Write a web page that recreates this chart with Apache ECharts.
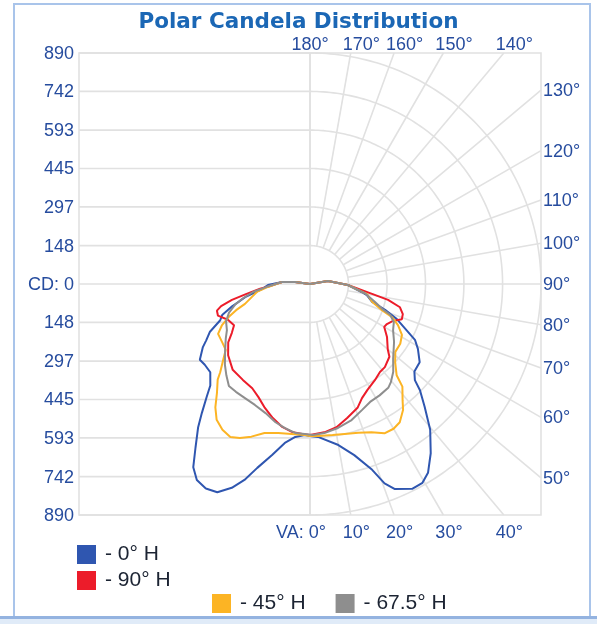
<!DOCTYPE html>
<html>
<head>
<meta charset="utf-8">
<script src="https://cdn.jsdelivr.net/npm/echarts@6/dist/echarts.min.js"></script>
<style>
    html, body { margin: 0; padding: 0; background: #fff; }
    #main { width: 597px; height: 624px; }
</style>
</head>
<body>
<div id="main"></div>
<script>
// candela ticks (left scale) and grid angles
var cdTicks = [0, 148, 297, 445, 593, 742, 890];
var maxCd = 890;
var gridAngles = [0, 10, 20, 30, 40, 50, 60, 70, 80, 90, 100, 110, 120, 130, 140, 150, 160, 170, 180];

// [vertical angle, candela]; negative angle = left half of the plot
var h0 = [[-180, 0], [-97.5, 58], [-94, 108], [-88.5, 162], [-84, 186], [-78.5, 255], [-74, 312], [-70.5, 359],
    [-68, 373], [-64.5, 427], [-61.5, 455], [-59.5, 479], [-55.5, 515], [-52.5, 511], [-48.5, 513], [-44.5, 548],
    [-42.5, 589], [-40, 648], [-38, 700], [-35, 769], [-32.5, 837], [-30, 872], [-27, 884], [-24, 878], [-21, 841],
    [-18.5, 796], [-16, 737], [-12.5, 675], [-9, 620], [-5.5, 592], [-2, 582], [0, 586], [3, 590], [10, 630],
    [14.5, 681], [18.5, 755], [20.5, 820], [22.5, 855], [26.5, 882], [29.5, 880], [32, 858], [35.5, 801],
    [39.5, 728], [43, 648], [46, 589], [47.5, 548], [50, 525], [54.5, 519], [59, 485], [62, 458], [64, 420],
    [68, 361], [71, 306], [74, 249], [79, 223], [81, 203], [88.5, 146], [92, 108], [99.5, 70], [180, 0]];

var h90 = [[-180, 0], [-97.5, 58], [-94, 108], [-87, 154], [-84.5, 193], [-81, 250], [-78.5, 307], [-76, 353],
    [-74, 373], [-71, 375], [-66.5, 345], [-61.5, 333], [-58, 355], [-54.5, 387], [-49, 418], [-42, 445],
    [-35, 451], [-29, 459], [-24.5, 479], [-20, 508], [-15.5, 536], [-11, 561], [-7, 574], [-3, 579], [0, 582],
    [2, 578], [6, 573], [10.5, 561], [15.5, 536], [21, 511], [24.5, 483], [28.5, 464], [34, 447], [38.5, 433],
    [42, 431], [47.5, 415], [50, 391], [55.5, 360], [60, 330], [62.5, 334], [66, 350], [69, 379], [72, 376],
    [75.5, 358], [78.5, 307], [81, 242], [88.5, 146], [92, 108], [99.5, 70], [180, 0]];

var h45 = [[-180, 0], [-97.5, 58], [-94, 108], [-86, 162], [-81.5, 207], [-77.5, 229], [-73, 262], [-70.5, 302],
    [-68, 337], [-65, 374], [-61.5, 403], [-56.5, 406], [-52, 412], [-48.5, 448], [-45.5, 485], [-44, 512],
    [-40.5, 552], [-37.5, 599], [-34.5, 635], [-31, 655], [-27.5, 665], [-24.5, 652], [-21, 630], [-17, 600],
    [-12, 587], [-7, 582], [-2, 582], [0, 586], [3, 586], [8.5, 588], [13, 593], [18, 603], [22.5, 618],
    [26.5, 643], [30, 644], [33, 635], [36.5, 603], [38.5, 573], [42, 532], [43.5, 485], [47.5, 445], [51.5, 420],
    [56.5, 417], [61, 405], [65, 374], [68, 341], [70, 295], [74, 249], [80, 223], [88.5, 146], [92, 108],
    [99.5, 70], [180, 0]];

var h675 = [[-180, 0], [-97.5, 58], [-94, 108], [-86, 170], [-82, 222], [-78, 264], [-74.5, 300], [-70.5, 331],
    [-66, 354], [-61, 366], [-57, 387], [-52, 415], [-46.5, 452], [-42.5, 477], [-38.5, 502], [-34.5, 504],
    [-29.5, 506], [-24.5, 512], [-19, 526], [-14, 549], [-10, 563], [-5.5, 577], [-2, 578], [1, 582], [5.5, 577],
    [11, 565], [17, 548], [22.5, 525], [27, 510], [32, 506], [37, 501], [39.5, 490], [43.5, 466], [48, 431],
    [55.5, 393], [61, 366], [65.5, 355], [69, 331], [71, 294], [74.5, 260], [80.5, 215], [88.5, 146], [92, 108],
    [99.5, 70], [180, 0]];

var seriesNames = ['0° H', '90° H', '45° H', '67.5° H'];
var seriesColors = ['#2f56b0', '#ec1c2a', '#fcb424', '#8e8e8e'];

window.onload = function () {
    var gridColor = '#e1e1e1';
    var labelColor = '#264c9e';
    var labelFont = '18px "Liberation Sans", Arial, sans-serif';

    function txt(x, y, s, align) {
        return {
            type: 'text', x: x, y: y,
            style: {
                text: s, fill: labelColor, font: labelFont,
                align: align, textAlign: align,
                verticalAlign: 'middle', textVerticalAlign: 'middle'
            }
        };
    }

    function renderGrid(params, api) {
        var c = api.coord([0, 0]);
        var R = c[1] - api.coord([maxCd, 180])[1];
        var L = c[0] - R, Rt = c[0] + R, T = c[1] - R, B = c[1] + R;
        var st = {stroke: gridColor, lineWidth: 1.6, fill: null};
        var kids = [];

        kids.push({type: 'rect', shape: {x: L, y: T, width: 2 * R, height: 2 * R}, style: st});
        kids.push({type: 'line', shape: {x1: L, y1: c[1], x2: c[0], y2: c[1]}, style: st});
        kids.push({type: 'line', shape: {x1: c[0], y1: T, x2: c[0], y2: B}, style: st});

        // rings: straight on the left, arc on the right
        cdTicks.slice(1).forEach(function (v) {
            var pts = [];
            for (var a = 180; a >= 0; a--) pts.push(api.coord([v, a]));
            pts.unshift([L, pts[0][1]]);
            pts.push([L, pts[pts.length - 1][1]]);
            kids.push({type: 'polyline', shape: {points: pts}, style: st});
        });

        // spokes from first ring out to the box
        gridAngles.forEach(function (a) {
            var p1 = api.coord([cdTicks[1], a]);
            var e = api.coord([maxCd, a]);
            var ux = (e[0] - c[0]) / R, uy = (e[1] - c[1]) / R;
            var k = R / Math.max(Math.abs(ux), Math.abs(uy));
            var p2 = [c[0] + ux * k, c[1] + uy * k];
            kids.push({type: 'line', shape: {x1: p1[0], y1: p1[1], x2: p2[0], y2: p2[1]}, style: st});

            if (a >= 135) {
                if (a === 180) kids.push(txt(c[0], T - 8, a + '°', 'center'));
                else kids.push(txt(p2[0] - 8, T - 8, a + '°', 'left'));
            } else if (a <= 45) {
                if (a === 0) kids.push(txt(c[0] + 16, B + 18, 'VA: 0°', 'right'));
                else kids.push(txt(p2[0] - 8, B + 18, a + '°', 'left'));
            } else {
                kids.push(txt(Rt + 2, p2[1] + 1, a + '°', 'left'));
            }
        });

        // candela labels on the left
        cdTicks.forEach(function (v) {
            var yUp = api.coord([v, 180])[1];
            var yDn = api.coord([v, 0])[1];
            if (v === 0) {
                kids.push(txt(L - 5, c[1] + 1, 'CD: 0', 'right'));
            } else {
                kids.push(txt(L - 5, yUp + 1, String(v), 'right'));
                kids.push(txt(L - 5, yDn + 1, String(v), 'right'));
            }
        });

        return {type: 'group', children: kids};
    }

    var curves = [h0, h90, h45, h675];
    var series = [{
        type: 'custom',
        coordinateSystem: 'polar',
        data: [[0, 0]],
        renderItem: renderGrid,
        clip: false,
        silent: true,
        z: 1
    }];
    curves.forEach(function (d, i) {
        series.push({
            name: seriesNames[i],
            type: 'line',
            coordinateSystem: 'polar',
            data: d.map(function (p) { return [p[1], p[0]]; }),
            showSymbol: false,
            symbol: 'none',
            smooth: false,
            itemStyle: {color: seriesColors[i]},
            lineStyle: {color: seriesColors[i], width: 2},
            z: 3
        });
    });

    var legendText = {fontSize: 21, fontFamily: '"Liberation Sans", Arial, sans-serif', color: '#1c2433', padding: [0, 0, 0, 4]};

    var option = {
        animation: false,
        title: {
            text: 'Polar Candela Distribution',
            left: 'center',
            top: 6,
            textStyle: {fontFamily: '"DejaVu Sans", sans-serif', fontWeight: 'bold', fontSize: 21.5, color: '#1b67b5'}
        },
        polar: {center: [310, 284], radius: 231},
        angleAxis: {
            type: 'value', min: -180, max: 180, startAngle: 90, clockwise: false,
            show: false, splitLine: {show: false}
        },
        radiusAxis: {
            type: 'value', min: 0, max: maxCd,
            show: false, splitLine: {show: false}
        },
        legend: [{
            data: ['0° H', '90° H'],
            orient: 'vertical',
            left: 77, top: 544, padding: 0,
            icon: 'rect', itemWidth: 19, itemHeight: 19, itemGap: 5,
            formatter: '- {name}',
            textStyle: legendText
        }, {
            data: ['45° H', '67.5° H'],
            orient: 'horizontal',
            left: 212, top: 593, padding: 0,
            icon: 'rect', itemWidth: 19, itemHeight: 19, itemGap: 30,
            formatter: '- {name}',
            textStyle: legendText
        }],
        graphic: [
            {type: 'rect', shape: {x: 14, y: 4, width: 576, height: 613}, style: {fill: 'none', stroke: '#a9c4ea', lineWidth: 2}, z: -1},
            {type: 'rect', shape: {x: 0, y: 618, width: 597, height: 6}, style: {fill: '#e0ebf8'}, z: -1},
            {type: 'line', shape: {x1: 0, y1: 617.5, x2: 597, y2: 617.5}, style: {stroke: '#94b3e0', lineWidth: 3}, z: -1}
        ],
        series: series
    };

    var myChart = echarts.init(document.getElementById('main'));
    myChart.setOption(option);
};
</script>
</body>
</html>
